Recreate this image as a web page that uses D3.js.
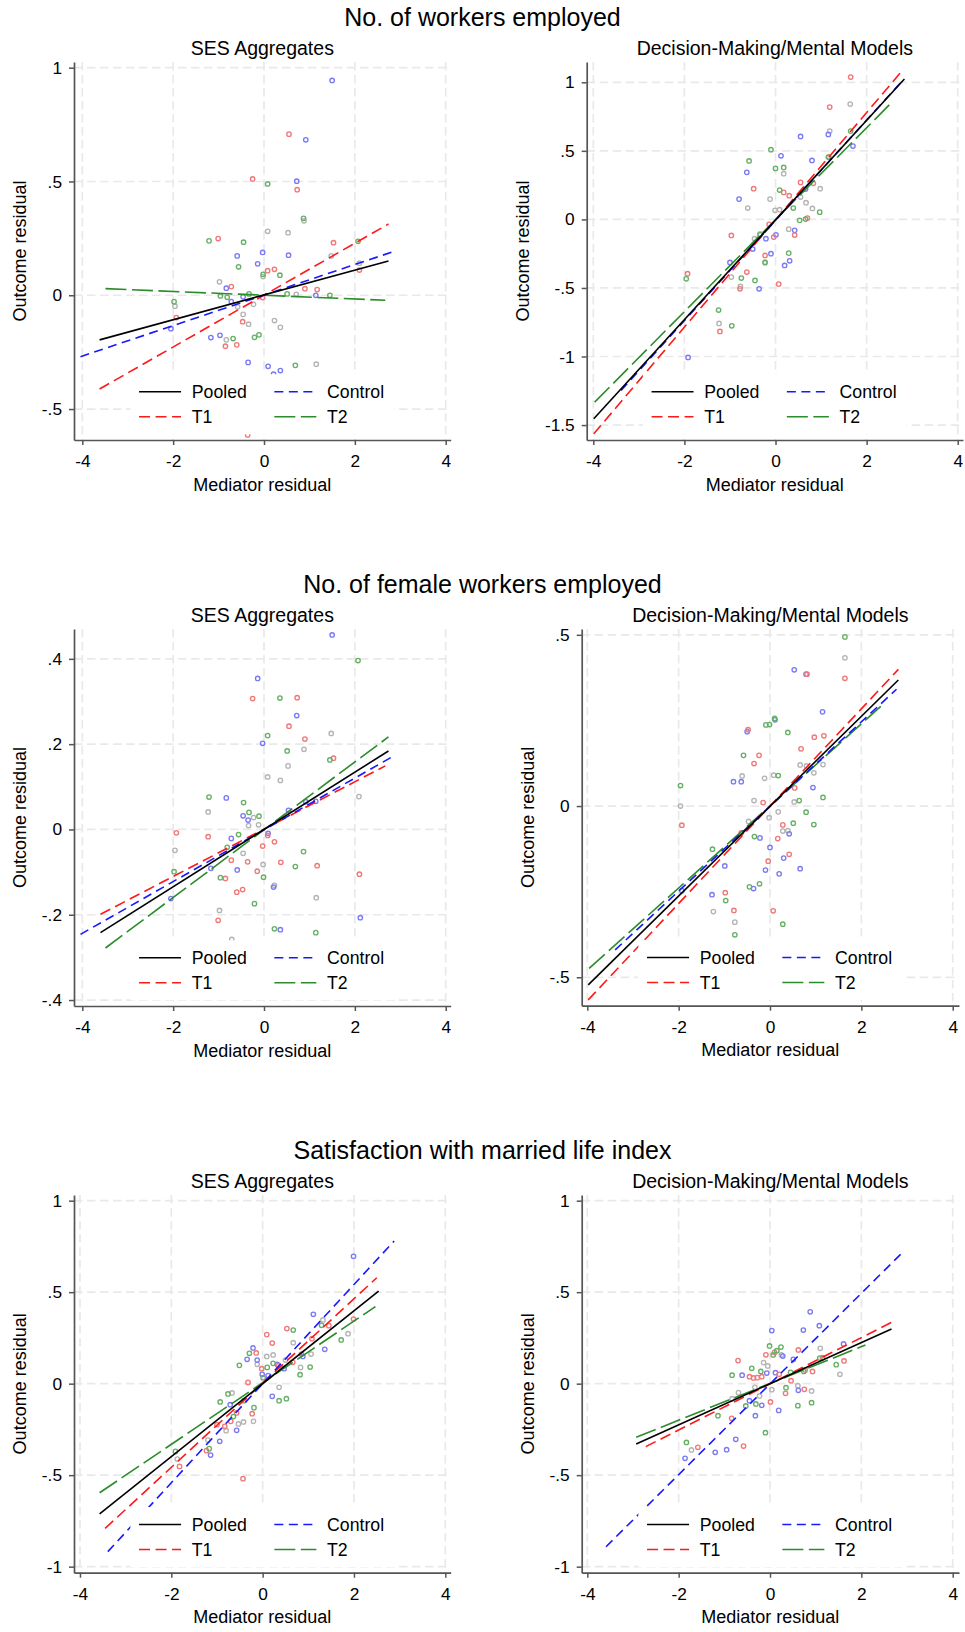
<!DOCTYPE html>
<html>
<head>
<meta charset="utf-8">
<script src="https://cdn.jsdelivr.net/npm/d3@7"></script>
<style>
  body { margin: 0; background: #fff; }
  svg { display: block; }
  text { font-family: "Liberation Sans", Arial, Helvetica, sans-serif; fill: #000; }
</style>
</head>
<body>
<svg id="chart" width="965" height="1632"></svg>
<script>
// ---- labels ----
const outcomeTitles = ["No. of workers employed", "No. of female workers employed", "Satisfaction with married life index"];
const mediatorTitles = ["SES Aggregates", "Decision-Making/Mental Models"];
const xAxisTitle = "Mediator residual";
const yAxisTitle = "Outcome residual";
const legendGroups = ["Pooled", "Control", "T1", "T2"];
const xTickValues = [-4, -2, 0, 2, 4];
const yTicksWorkersSes = [-0.5, 0, 0.5, 1];
const yTicksWorkersDm = [-1.5, -1, -0.5, 0, 0.5, 1];
const yTicksFemaleSes = [-0.4, -0.2, 0, 0.2, 0.4];
const yTicksFemaleDm = [-0.5, 0, 0.5];
const yTicksSatisfaction = [-1, -0.5, 0, 0.5, 1];

// ---- No. of workers employed / SES Aggregates ----
const wrkSesControl = [[1.50,0.944],[0.92,0.683],[0.72,0.501],[-0.03,0.188],[-0.59,0.173],[0.54,0.176],[-0.14,0.138],[-0.83,0.031],[-0.46,-0.007],[-0.72,-0.028],[1.14,0.0],[-2.05,-0.147],[-1.17,-0.186],[-0.97,-0.176],[-0.35,-0.295],[0.09,-0.312],[0.36,-0.331],[0.21,-0.347]];
const wrkSesT1 = [[0.55,0.708],[-0.25,0.511],[0.73,0.464],[-1.01,0.249],[1.53,0.231],[0.08,0.108],[0.23,0.114],[-0.72,0.038],[0.90,0.029],[1.17,0.025],[-0.03,-0.010],[-1.93,-0.098],[-0.47,-0.116],[2.10,0.111],[-0.85,-0.224],[-0.60,-0.218],[-0.36,-0.614]];
const wrkSesT2 = [[0.08,0.489],[0.87,0.338],[-1.21,0.239],[-0.45,0.233],[2.07,0.237],[-0.56,0.125],[-0.02,0.092],[0.35,0.088],[-0.96,-0.003],[-0.81,-0.009],[-0.33,0.006],[0.51,0.006],[1.45,0.0],[-1.98,-0.028],[-0.68,-0.190],[-0.21,-0.185],[-0.11,-0.174],[0.69,-0.308]];
const wrkSesOther = [[0.08,0.281],[0.53,0.275],[0.88,0.327],[1.48,0.173],[2.10,0.141],[-0.98,0.059],[-0.02,0.082],[-0.58,-0.051],[-1.96,-0.048],[-0.23,-0.040],[0.71,0.004],[-0.46,-0.084],[-0.34,-0.127],[0.23,-0.111],[0.36,-0.141],[-0.83,-0.196],[1.15,-0.303]];
const wrkSesFits = [["Pooled",-3.62,-0.196,2.74,0.151],["Control",-4.04,-0.27,2.85,0.192],["T1",-3.62,-0.412,2.74,0.313],["T2",-3.49,0.029,2.67,-0.022]];

// ---- No. of workers employed / Decision-Making ----
const wrkDmControl = [[0.55,0.605],[1.16,0.62],[0.12,0.464],[0.80,0.43],[-0.63,0.343],[1.70,0.535],[-0.80,0.148],[0.66,0.221],[0.42,-0.08],[0.01,-0.112],[-0.21,-0.141],[-0.50,-0.216],[-0.10,-0.250],[-1.00,-0.314],[0.31,-0.302],[0.20,-0.336],[-0.36,-0.506],[-1.92,-1.007]];
const wrkDmT1 = [[1.65,1.038],[1.19,0.819],[0.55,0.27],[-0.48,0.224],[0.18,0.197],[0.30,0.173],[0.83,0.263],[1.17,0.455],[-0.97,-0.117],[-0.14,-0.036],[-0.04,-0.129],[0.42,-0.114],[-0.23,-0.263],[-0.63,-0.384],[-0.78,-0.506],[0.07,-0.472],[-1.93,-0.396],[-1.22,-0.817],[0.70,0.01]];
const wrkDmT2 = [[-0.10,0.508],[-0.58,0.426],[0.0,0.372],[0.18,0.379],[0.09,0.214],[0.39,0.083],[0.53,-0.007],[0.66,0.002],[0.97,0.053],[1.65,0.644],[1.16,0.455],[-0.34,-0.112],[0.29,-0.246],[-0.23,-0.316],[-0.75,-0.428],[-0.45,-0.445],[-1.96,-0.433],[-1.25,-0.661],[-0.96,-0.776]];
const wrkDmOther = [[1.64,0.841],[1.19,0.644],[0.18,0.333],[0.98,0.224],[-0.12,0.148],[-0.61,0.083],[-0.01,0.066],[0.09,0.071],[0.67,0.122],[0.81,0.08],[0.55,0.163],[0.29,-0.071],[-0.34,-0.105],[-0.46,-0.141],[-0.97,-0.421],[-0.77,-0.489],[-1.24,-0.759],[-0.23,-0.311]];
const wrkDmFits = [["Pooled",-3.99,-1.454,2.83,1.024],["Control",-3.39,-1.247,2.76,1.002],["T1",-3.99,-1.564,2.80,1.092],["T2",-3.97,-1.333,2.50,0.836]];

// ---- No. of female workers employed / SES Aggregates ----
const femSesControl = [[1.50,0.456],[-0.14,0.354],[0.72,0.267],[-0.03,0.202],[-0.83,0.074],[-0.46,0.032],[-0.35,0.022],[-0.72,-0.021],[0.09,-0.009],[0.54,0.045],[0.92,0.065],[-0.59,-0.095],[-1.17,-0.091],[0.21,-0.135],[-2.05,-0.162],[0.36,-0.235],[2.12,-0.207],[1.14,0.066]];
const femSesT1 = [[-0.25,0.307],[0.73,0.309],[0.55,0.242],[0.90,0.212],[1.53,0.167],[-1.93,-0.008],[-1.23,-0.017],[0.08,-0.014],[-0.03,-0.039],[0.23,-0.029],[-0.72,-0.072],[-0.36,-0.076],[0.37,-0.077],[1.17,-0.085],[-0.15,-0.098],[-0.85,-0.115],[-0.60,-0.147],[-0.47,-0.141],[-1.01,-0.213],[2.10,-0.105]];
const femSesT2 = [[2.07,0.396],[0.35,0.308],[0.08,0.220],[0.51,0.184],[1.45,0.163],[-1.21,0.076],[-0.45,0.063],[-0.33,0.040],[-0.11,0.031],[-0.56,-0.012],[-0.81,-0.042],[0.87,-0.052],[0.69,-0.087],[-1.98,-0.099],[-0.96,-0.113],[-0.01,-0.112],[-0.21,-0.174],[0.23,-0.233],[1.14,-0.242]];
const femSesOther = [[1.48,0.225],[0.88,0.188],[0.53,0.149],[0.08,0.123],[0.36,0.115],[2.09,0.077],[-1.23,0.041],[-0.23,0.028],[-0.34,0.009],[-0.12,0.011],[-1.96,-0.049],[-0.46,-0.056],[-0.02,-0.082],[0.23,-0.131],[-0.98,-0.190],[1.15,-0.160],[-0.71,-0.258]];
const femSesFits = [["Pooled",-3.60,-0.242,2.74,0.184],["Control",-4.04,-0.246,2.85,0.172],["T1",-3.60,-0.199,2.67,0.149],["T2",-3.49,-0.278,2.74,0.217]];

// ---- No. of female workers employed / Decision-Making ----
const femDmControl = [[0.53,0.398],[0.79,0.385],[1.15,0.275],[0.11,0.252],[-0.50,0.217],[-0.80,0.071],[-0.63,0.071],[0.94,0.054],[0.42,-0.081],[-0.22,-0.093],[0.0,-0.121],[0.30,-0.152],[-0.99,-0.175],[-0.10,-0.187],[0.20,-0.198],[0.66,-0.183],[-1.27,-0.259],[-0.36,-0.241],[-1.93,-0.247]];
const femDmT1 = [[0.81,0.385],[1.64,0.373],[-0.48,0.223],[0.97,0.201],[1.18,0.205],[0.68,0.167],[-0.24,0.148],[-0.35,0.124],[0.54,0.053],[-0.15,0.010],[-1.93,-0.056],[0.28,-0.055],[0.17,-0.095],[-0.63,-0.078],[0.42,-0.141],[-0.04,-0.161],[-0.98,-0.253],[-0.79,-0.305],[0.07,-0.306]];
const femDmT2 = [[1.64,0.494],[0.10,0.256],[-0.09,0.237],[-0.01,0.238],[0.39,0.215],[-0.58,0.148],[0.18,0.089],[-1.96,0.060],[0.64,0.016],[1.16,0.025],[0.79,-0.018],[0.51,-0.050],[0.96,-0.054],[-0.34,-0.089],[-1.26,-0.126],[-0.45,-0.236],[-0.23,-0.227],[-0.97,-0.276],[0.28,-0.345],[-0.77,-0.376]];
const femDmOther = [[1.64,0.433],[0.66,0.120],[0.80,0.117],[1.16,0.121],[0.96,0.097],[-0.61,0.088],[0.08,0.090],[-0.12,0.081],[-0.35,0.016],[0.53,0.012],[0.18,-0.017],[-0.02,-0.034],[-0.47,-0.045],[0.28,-0.073],[0.39,-0.072],[-1.24,-0.308],[-0.77,-0.339],[-1.96,0.0]];
const femDmFits = [["Pooled",-3.98,-0.522,2.81,0.368],["Control",-3.39,-0.420,2.77,0.341],["T1",-3.98,-0.566,2.81,0.399],["T2",-3.96,-0.474,2.50,0.300]];

// ---- Satisfaction with married life index / SES Aggregates ----
const satSesControl = [[1.99,0.696],[1.11,0.379],[1.36,0.188],[-0.21,0.195],[-0.34,0.133],[-0.12,0.129],[-0.01,0.051],[0.12,0.044],[0.32,0.106],[0.47,0.082],[0.88,0.149],[0.21,-0.069],[-0.71,-0.115],[-0.57,-0.255],[-0.94,-0.315],[-1.14,-0.390]];
const satSesT1 = [[0.53,0.301],[0.09,0.268],[0.21,0.222],[-0.14,0.168],[-0.02,0.082],[-0.32,0.007],[0.34,0.098],[0.85,0.162],[0.66,0.117],[1.08,0.246],[1.45,0.317],[1.99,0.353],[-0.23,-0.164],[-0.57,-0.160],[-0.70,-0.206],[-0.83,-0.233],[-1.00,-0.224],[-1.23,-0.366],[-1.82,-0.452],[-0.43,-0.519]];
const satSesT2 = [[0.67,0.293],[1.29,0.319],[-0.29,0.166],[-0.51,0.100],[0.23,0.111],[0.10,0.089],[0.01,0.033],[1.04,0.091],[0.82,0.049],[1.72,0.239],[-0.76,-0.056],[-0.93,-0.100],[0.36,-0.093],[0.52,-0.082],[-0.19,-0.131],[-0.41,-0.093],[-0.64,-0.180],[-1.17,-0.355],[-1.91,-0.370]];
const satSesOther = [[1.87,0.273],[1.32,0.348],[0.67,0.224],[0.23,0.157],[0.09,0.149],[0.50,0.129],[-0.12,0.106],[1.06,0.162],[0.83,0.089],[0.36,-0.020],[-0.67,-0.051],[-0.20,-0.206],[-0.42,-0.209],[-0.53,-0.220],[-0.80,-0.257],[-1.20,-0.308],[-1.87,-0.412]];
const satSesFits = [["Pooled",-3.57,-0.712,2.54,0.506],["Control",-3.39,-0.918,2.88,0.780],["T1",-3.45,-0.791,2.50,0.579],["T2",-3.57,-0.596,2.47,0.421]];

// ---- Satisfaction with married life index / Decision-Making ----
const satDmControl = [[0.88,0.393],[0.04,0.290],[0.73,0.293],[1.08,0.317],[1.61,0.217],[0.28,0.151],[0.51,0.133],[-0.07,0.058],[0.12,0.060],[-0.61,0.046],[0.62,-0.036],[-0.45,-0.093],[-0.18,-0.118],[0.19,-0.146],[-0.32,-0.175],[-0.75,-0.304],[-0.95,-0.361],[-1.20,-0.375],[-1.86,-0.408]];
const satDmT1 = [[-0.70,0.126],[-0.09,0.158],[0.10,0.171],[0.62,0.184],[1.15,0.142],[1.62,0.124],[-0.36,0.031],[-0.28,0.033],[-0.18,0.038],[-0.45,0.038],[0.20,0.051],[0.46,0.016],[0.77,0.075],[0.93,0.067],[0.34,-0.053],[0.75,-0.031],[0.01,-0.100],[-0.84,-0.189],[-0.58,-0.341],[-1.58,-0.348]];
const satDmT2 = [[-0.01,0.206],[0.24,0.200],[0.15,0.180],[0.07,0.157],[1.45,0.104],[1.09,0.140],[-0.40,0.084],[-0.20,0.067],[-0.83,0.046],[0.45,0.062],[0.74,0.067],[0.35,-0.022],[0.61,-0.120],[0.91,-0.104],[-0.31,-0.111],[-0.53,-0.122],[-1.14,-0.175],[-0.10,-0.268],[-1.83,-0.321]];
const satDmOther = [[1.10,0.193],[1.53,0.051],[-0.14,0.115],[-0.05,0.097],[0.25,0.157],[-0.69,-0.049],[-0.83,-0.082],[-0.33,-0.020],[-0.23,-0.067],[0.04,-0.033],[0.61,-0.011],[0.91,-0.040],[-1.72,-0.362]];
const satDmFits = [["Pooled",-2.93,-0.330,2.66,0.299],["Control",-3.59,-0.891,2.86,0.707],["T1",-2.72,-0.344,2.66,0.335],["T2",-2.93,-0.293,2.09,0.211]];

// ---- styles ----
const lineStyle = {
  Pooled:  { color: "#000000", dash: null },
  Control: { color: "#1818ff", dash: "9,5.5" },
  T1:      { color: "#ff1818", dash: "11,5.5" },
  T2:      { color: "#2a8c2a", dash: "21,5.5" }
};
const markerColor = { Other: "#b4b4b4", Control: "#7a7af4", T1: "#f07878", T2: "#66b066" };
const axisColor = "#555555";
const gridColor = "#e9e9e9";

// ---- panel layout: plot-region boxes (px) and axis extents ----
const panels = [
  { row: 0, col: 0, box: {left: 74,    right: 450.7, top: 62,   bottom: 440},    xDom: [-4.183, 4.110], yDom: [-0.636, 1.025], yTicks: yTicksWorkersSes,   pts: {Other: wrkSesOther, Control: wrkSesControl, T1: wrkSesT1, T2: wrkSesT2}, fits: wrkSesFits },
  { row: 0, col: 1, box: {left: 586.7, right: 963,   top: 62,   bottom: 440},    xDom: [-4.145, 4.116], yDom: [-1.609, 1.148], yTicks: yTicksWorkersDm,    pts: {Other: wrkDmOther, Control: wrkDmControl, T1: wrkDmT1, T2: wrkDmT2}, fits: wrkDmFits },
  { row: 1, col: 0, box: {left: 74,    right: 450.7, top: 629,  bottom: 1006},   xDom: [-4.183, 4.110], yDom: [-0.414, 0.470], yTicks: yTicksFemaleSes,    pts: {Other: femSesOther, Control: femSesControl, T1: femSesT1, T2: femSesT2}, fits: femSesFits },
  { row: 1, col: 1, box: {left: 581.7, right: 959,   top: 629,  bottom: 1005.7}, xDom: [-4.123, 4.138], yDom: [-0.583, 0.517], yTicks: yTicksFemaleDm,     pts: {Other: femDmOther, Control: femDmControl, T1: femDmT1, T2: femDmT2}, fits: femDmFits },
  { row: 2, col: 0, box: {left: 74,    right: 450.7, top: 1195, bottom: 1572.7}, xDom: [-4.131, 4.118], yDom: [-1.033, 1.031], yTicks: yTicksSatisfaction, pts: {Other: satSesOther, Control: satSesControl, T1: satSesT1, T2: satSesT2}, fits: satSesFits },
  { row: 2, col: 1, box: {left: 581.7, right: 959,   top: 1195, bottom: 1572.7}, xDom: [-4.123, 4.138], yDom: [-1.033, 1.031], yTicks: yTicksSatisfaction, pts: {Other: satDmOther, Control: satDmControl, T1: satDmT1, T2: satDmT2}, fits: satDmFits }
];

const svg = d3.select("#chart");

// Stata-style tick labels: drop the leading zero (".5", "-.5")
const fmt = d => d === 0 ? "0" : String(d).replace(/^(-?)0\./, "$1.");

// row titles
[0, 1, 2].forEach(r => {
  const top = panels.find(p => p.row === r).box.top;
  svg.append("text")
    .attr("x", 482.5).attr("y", top - 35.6)
    .attr("text-anchor", "middle")
    .style("font-size", "25px")
    .text(outcomeTitles[r]);
});

panels.forEach(p => {
  const b = p.box;
  const x = d3.scaleLinear().domain(p.xDom).range([b.left, b.right]);
  const y = d3.scaleLinear().domain(p.yDom).range([b.bottom, b.top]);
  const g = svg.append("g");
  const cx = (b.left + b.right) / 2;

  // subtitle
  g.append("text")
    .attr("x", cx).attr("y", b.top - 7.5)
    .attr("text-anchor", "middle")
    .style("font-size", "19.5px")
    .text(mediatorTitles[p.col]);

  // gridlines
  g.append("g").selectAll("line").data(xTickValues).join("line")
    .attr("x1", d => x(d)).attr("x2", d => x(d))
    .attr("y1", b.top).attr("y2", b.bottom)
    .attr("stroke", gridColor).attr("stroke-width", 1.7).attr("stroke-dasharray", "8.5,4.5");
  g.append("g").selectAll("line").data(p.yTicks).join("line")
    .attr("x1", b.left).attr("x2", b.right)
    .attr("y1", d => y(d)).attr("y2", d => y(d))
    .attr("stroke", gridColor).attr("stroke-width", 1.7).attr("stroke-dasharray", "8.5,4.5");

  // scatter markers (hollow circles)
  ["Other", "Control", "T1", "T2"].forEach(k => {
    g.append("g").selectAll("circle").data(p.pts[k]).join("circle")
      .attr("cx", d => x(d[0])).attr("cy", d => y(d[1]))
      .attr("r", 2.2)
      .attr("fill", "none")
      .attr("stroke", markerColor[k])
      .attr("stroke-width", 1.35);
  });

  // fitted lines
  const lineGen = d3.line().x(d => x(d[0])).y(d => y(d[1]));
  const fitOrder = ["T2", "T1", "Control", "Pooled"];
  fitOrder.forEach(name => {
    const f = p.fits.find(e => e[0] === name);
    const st = lineStyle[name];
    g.append("path")
      .attr("d", lineGen([[f[1], f[2]], [f[3], f[4]]]))
      .attr("fill", "none")
      .attr("stroke", st.color)
      .attr("stroke-width", 1.6)
      .attr("stroke-dasharray", st.dash);
  });

  // legend (white box, centred at the bottom of the plot region)
  const row2 = b.bottom - 23.2, row1 = row2 - 25;
  const lg = g.append("g");
  lg.append("rect")
    .attr("x", cx - 132).attr("y", row1 - 17.5)
    .attr("width", 264).attr("height", (row2 + 17.5) - (row1 - 17.5))
    .attr("fill", "#fff");
  const slots = [
    { name: legendGroups[0], sx: cx - 123.3, ty: row1 },
    { name: legendGroups[1], sx: cx + 12,    ty: row1 },
    { name: legendGroups[2], sx: cx - 123.3, ty: row2 },
    { name: legendGroups[3], sx: cx + 12,    ty: row2 }
  ];
  slots.forEach(s => {
    const st = lineStyle[s.name];
    lg.append("line")
      .attr("x1", s.sx).attr("x2", s.sx + 42)
      .attr("y1", s.ty).attr("y2", s.ty)
      .attr("stroke", st.color).attr("stroke-width", 1.6)
      .attr("stroke-dasharray", st.dash);
    lg.append("text")
      .attr("x", s.sx + 52.7).attr("y", s.ty)
      .attr("dy", "0.36em")
      .style("font-size", "17.7px")
      .text(s.name);
  });

  // axes
  const yAxis = g.append("g")
    .attr("transform", `translate(${b.left},0)`)
    .call(d3.axisLeft(y).tickValues(p.yTicks).tickFormat(fmt).tickSize(5).tickSizeOuter(0).tickPadding(7));
  const xAxis = g.append("g")
    .attr("transform", `translate(0,${b.bottom})`)
    .call(d3.axisBottom(x).tickValues(xTickValues).tickFormat(fmt).tickSize(5).tickSizeOuter(0).tickPadding(10));
  [yAxis, xAxis].forEach(a => {
    a.select(".domain").attr("stroke", axisColor).attr("stroke-width", 1.7);
    a.selectAll(".tick line").attr("stroke", axisColor).attr("stroke-width", 1.5);
    a.selectAll(".tick text")
      .attr("fill", "#000")
      .style("font-family", '"Liberation Sans", Arial, sans-serif')
      .style("font-size", "17.3px");
  });

  // axis titles
  g.append("text")
    .attr("x", cx).attr("y", b.bottom + 50.7)
    .attr("text-anchor", "middle")
    .style("font-size", "18px")
    .text(xAxisTitle);
  const labelLeft = d3.min(yAxis.selectAll(".tick text").nodes(), n => n.getBBox().x) + b.left;
  g.append("text")
    .attr("transform", `translate(${labelLeft - 15.5},${(b.top + b.bottom) / 2}) rotate(-90)`)
    .attr("text-anchor", "middle")
    .style("font-size", "18px")
    .text(yAxisTitle);
});
</script>
</body>
</html>
